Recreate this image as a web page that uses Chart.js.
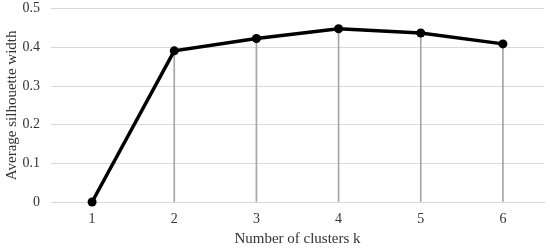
<!DOCTYPE html>
<html>
<head>
<meta charset="utf-8">
<script src="https://cdn.jsdelivr.net/npm/chart.js@4/dist/chart.umd.min.js"></script>
<style>
  html, body { margin: 0; padding: 0; background: #fff; }
  #wrap { width: 550px; height: 248px; }
</style>
</head>
<body>
<div id="wrap"><canvas id="grafico"></canvas></div>
<script>
const clusters = ['1', '2', '3', '4', '5', '6']
const silhueta = [0, 0.391, 0.423, 0.448, 0.437, 0.409]

const fonte = "'Liberation Serif', 'Times New Roman', serif"

const ctx = document.getElementById('grafico')

new Chart(ctx, {
  data: {
    labels: clusters,
    datasets: [
      {
        type: 'line',
        data: silhueta,
        borderColor: '#000',
        backgroundColor: '#000',
        borderWidth: 3.5,
        pointRadius: 4.5,
        pointBorderWidth: 0,
        tension: 0,
        clip: false,
        order: 0
      },
      {
        // linhas verticais ate o eixo
        type: 'bar',
        data: silhueta,
        backgroundColor: '#a6a6a6',
        barThickness: 1,
        order: 1
      }
    ]
  },
  options: {
    responsive: true,
    maintainAspectRatio: false,
    animation: false,
    layout: { autoPadding: false, padding: { top: 1, right: 6, left: 0, bottom: 0 } },
    plugins: {
      legend: { display: false },
      tooltip: { enabled: false }
    },
    scales: {
      x: {
        offset: true,
        grid: { display: false, drawTicks: false },
        border: { color: '#d9d9d9', width: 1 },
        ticks: { color: '#333', font: { family: fonte, size: 14 }, padding: 9 },
        title: {
          display: true,
          text: 'Number of clusters k',
          color: '#333',
          font: { family: fonte, size: 15 },
          padding: { top: 1, bottom: 0 }
        },
        afterFit: (s) => { s.height = 46 }
      },
      y: {
        min: 0,
        max: 0.5,
        ticks: {
          stepSize: 0.1,
          color: '#333',
          font: { family: fonte, size: 14 },
          padding: 11,
          callback: (v) => v === 0 ? '0' : v.toFixed(1)
        },
        grid: { color: '#d9d9d9', drawTicks: false },
        border: { display: false },
        title: {
          display: true,
          text: 'Average silhouette width',
          color: '#333',
          font: { family: fonte, size: 15 },
          padding: { top: 3, bottom: 2 }
        },
        // chart.js soma o padding dos ticks no tamanho, entao fixo aqui
        afterFit: (s) => {
          s.width = 51
          s.paddingTop = 8.7
          s.paddingBottom = 8
        }
      }
    }
  }
})
</script>
</body>
</html>
